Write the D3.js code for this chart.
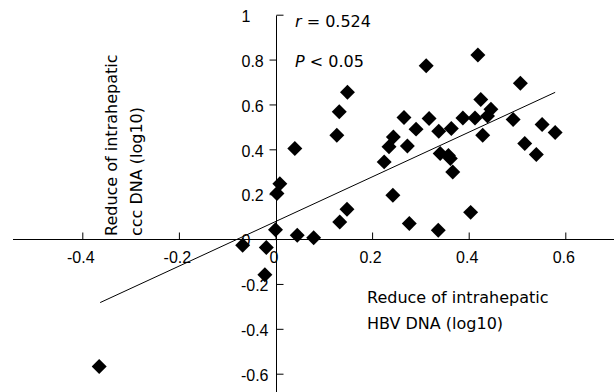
<!DOCTYPE html>
<html>
<head>
<meta charset="utf-8">
<script src="https://cdn.jsdelivr.net/npm/d3@7"></script>
<style>
  html, body { margin: 0; padding: 0; background: #fff; }
  svg { display: block; font-family: "DejaVu Sans", Verdana, sans-serif; }
</style>
</head>
<body>
<svg width="614" height="392"></svg>
<script>
// values
let hbvDna = [-0.365, -0.068, -0.019, -0.022, 0.000, 0.003, 0.009, 0.040, 0.045, 0.079,
  0.133, 0.148, 0.127, 0.132, 0.149, 0.225, 0.235, 0.244, 0.243, 0.266,
  0.273, 0.277, 0.291, 0.312, 0.318, 0.337, 0.338, 0.341, 0.358, 0.362,
  0.364, 0.367, 0.388, 0.404, 0.413, 0.419, 0.425, 0.439, 0.446, 0.429,
  0.492, 0.507, 0.516, 0.540, 0.552, 0.579];
let cccDna = [-0.568, -0.028, -0.038, -0.159, 0.042, 0.203, 0.247, 0.404, 0.017, 0.006,
  0.076, 0.133, 0.463, 0.567, 0.654, 0.344, 0.411, 0.455, 0.195, 0.542,
  0.415, 0.069, 0.490, 0.772, 0.537, 0.039, 0.481, 0.381, 0.372, 0.359,
  0.493, 0.299, 0.540, 0.119, 0.540, 0.820, 0.622, 0.548, 0.579, 0.463,
  0.533, 0.694, 0.426, 0.377, 0.511, 0.475];
let fitX = [-0.363, 0.579];
let fitY = [-0.283, 0.654];
let xTicks = [-0.4, -0.2, 0, 0.2, 0.4, 0.6];
let xTickLabels = ["-0.4", "-0.2", "0", "0.2", "0.4", "0.6"];
let yTicks = [-0.6, -0.4, -0.2, 0, 0.2, 0.4, 0.6, 0.8, 1];
let yTickLabels = ["-0.6", "-0.4", "-0.2", "0", "0.2", "0.4", "0.6", "0.8", "1"];

let svg = d3.select("svg");
let x = d3.scaleLinear().domain([-0.4, 0.6]).range([82.3, 565.3]);
let y = d3.scaleLinear().domain([-0.6, 1]).range([373.7, 14.7]);
let x0 = Math.round(x(0)) + 0.5, y0 = Math.round(y(0)) + 0.5;

// x axis
let gx = svg.append("g").attr("transform", "translate(0," + y0 + ")")
  .call(d3.axisBottom(x).tickValues(xTicks).tickFormat((d, i) => xTickLabels[i])
    .tickSizeInner(-7).tickSizeOuter(0).tickPadding(12));
gx.select(".domain").remove();
gx.selectAll(".tick text").attr("dx", "-2").style("font-size", "16px").attr("fill", "#000");
gx.append("line").attr("x1", 13).attr("x2", 614).attr("stroke", "#000");

// y axis
let gy = svg.append("g").attr("transform", "translate(" + x0 + ",0)")
  .call(d3.axisLeft(y).tickValues(yTicks).tickFormat((d, i) => yTickLabels[i])
    .tickSizeInner(7).tickSizeOuter(0));
gy.select(".domain").remove();
gy.selectAll(".tick line").attr("x2", d => (d === 1 || d < 0) ? 7 : -7);
gy.selectAll(".tick text")
  .attr("text-anchor", d => d < 0 ? "end" : "start")
  .attr("x", d => d < 0 ? -8 : -35)
  .attr("dy", "0.42em")
  .style("font-size", "16px").attr("fill", "#000");
gy.append("line").attr("y1", Math.round(y(1)) + 0.5).attr("y2", 392).attr("stroke", "#000");

// regression line
svg.append("line")
  .attr("x1", x(fitX[0])).attr("y1", y(fitY[0]))
  .attr("x2", x(fitX[1])).attr("y2", y(fitY[1]))
  .attr("stroke", "#000").attr("stroke-width", 1);

// points
let diamond = d3.symbol().type(d3.symbolSquare).size(112);
svg.selectAll(".pt")
  .data(hbvDna.map((v, i) => ({x: v, y: cccDna[i]})))
  .enter().append("path")
  .attr("class", "pt")
  .attr("d", diamond)
  .attr("transform", d => "translate(" + x(d.x) + "," + y(d.y) + ") rotate(45)")
  .attr("fill", "#000");

// stats
let stat = svg.append("g").style("font-size", "16px");
let t1 = stat.append("text").attr("x", 295).attr("y", 26.5);
t1.append("tspan").style("font-style", "italic").text("r");
t1.append("tspan").text(" = 0.524");
let t2 = stat.append("text").attr("x", 295).attr("y", 66.5);
t2.append("tspan").style("font-style", "italic").text("P");
t2.append("tspan").text(" < 0.05");

// axis titles
let xt = svg.append("text").style("font-size", "16px");
xt.append("tspan").attr("x", 367).attr("y", 303).text("Reduce of intrahepatic");
xt.append("tspan").attr("x", 367).attr("y", 328.5).text("HBV DNA (log10)");

let yt = svg.append("text").style("font-size", "16px")
  .attr("transform", "translate(0,236) rotate(-90)");
yt.append("tspan").attr("x", 0).attr("y", 117).text("Reduce of intrahepatic");
yt.append("tspan").attr("x", 0).attr("y", 141.5).text("ccc DNA (log10)");
</script>
</body>
</html>
